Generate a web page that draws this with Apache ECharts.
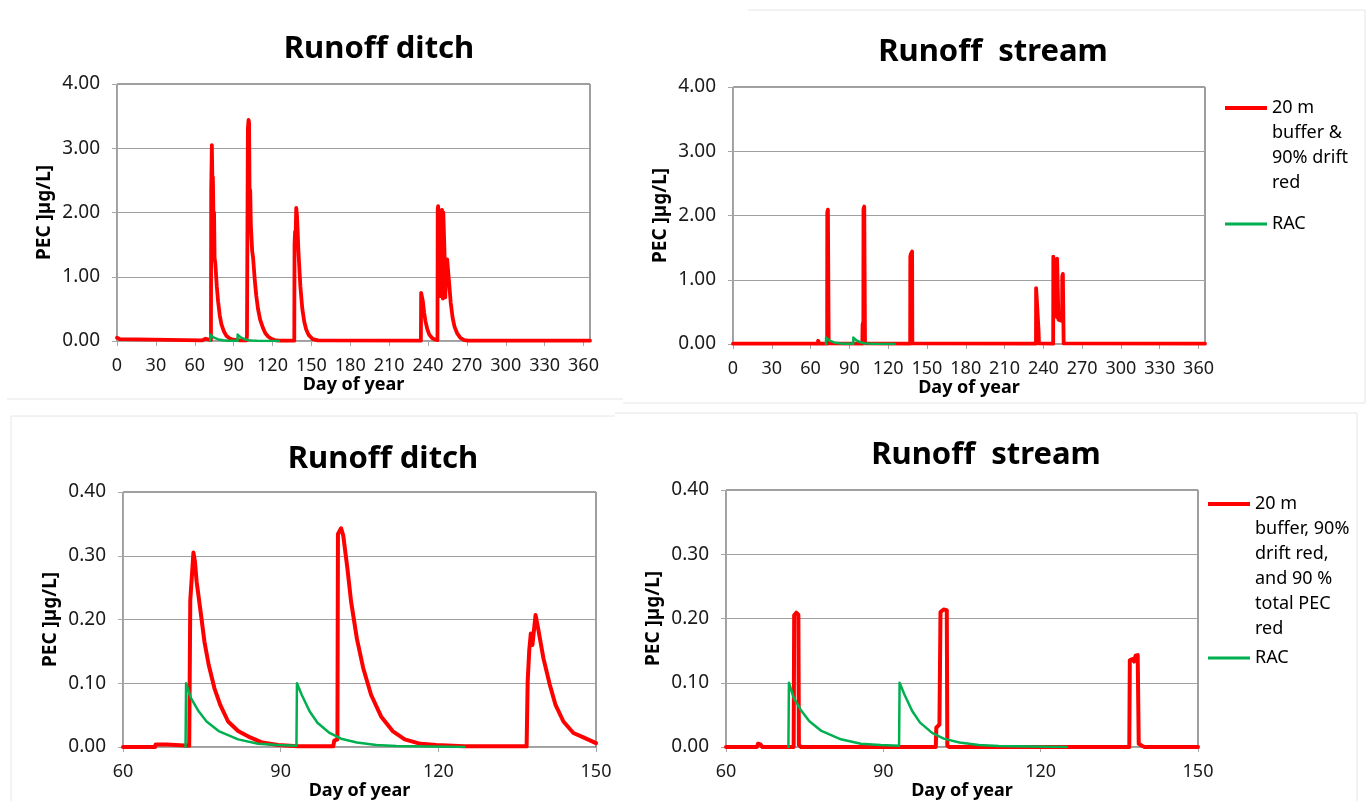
<!DOCTYPE html>
<html lang="en">
<head>
<meta charset="utf-8">
<title>Runoff PEC</title>
<script src="https://cdn.jsdelivr.net/npm/echarts@6/dist/echarts.min.js"></script>
<style>
    html, body { margin: 0; padding: 0; background: #ffffff; }
    #main { width: 1368px; height: 801px; }
</style>
</head>
<body>
<div id="main"></div>
<script>
    // ---- data: [day of year, PEC µg/L] ----
    const ditchYear = [
        [0, 0.05], [2, 0.03], [3, 0.01], [65.8, 0.01], [66, 0.04], [68.3, 0.035], [68.5, 0.015], [72.5, 0.015],
        [72.7, 2.35], [73.2, 3.05], [73.6, 2.5], [74.0, 2.55], [74.4, 1.95], [74.9, 2.0], [75.3, 1.3], [75.9, 1.2],
        [77, 0.85], [78, 0.62], [79.3, 0.4], [80.6, 0.26], [82.5, 0.15], [84.4, 0.08], [87, 0.04], [89.6, 0.02], [95, 0.01],
        [100, 0.01], [100.3, 0.1], [100.8, 0.12], [101.0, 3.3], [101.5, 3.44], [101.9, 3.4], [102.3, 2.3], [102.8, 2.35],
        [103.3, 1.8], [103.8, 1.78], [104.3, 1.4], [105, 1.3], [106.3, 0.95], [107.5, 0.7], [108.8, 0.5], [110.5, 0.33],
        [112.7, 0.2], [114.5, 0.12], [116.6, 0.07], [119, 0.035], [121.7, 0.015], [125, 0.005],
        [136.8, 0.005], [137.0, 1.5], [137.4, 1.7], [137.8, 1.6], [138.3, 2.07], [138.9, 1.95], [139.4, 1.72], [140, 1.4],
        [141.5, 0.85], [143, 0.5], [144.5, 0.3], [146, 0.18], [148, 0.09], [151, 0.03], [155, 0.01],
        [234.5, 0.005], [234.7, 0.75], [235.3, 0.77], [236, 0.62], [237, 0.44], [238, 0.31], [239.5, 0.18], [241, 0.1],
        [243, 0.05], [245, 0.025], [247.3, 0.015],
        [247.5, 2.05], [247.8, 2.1], [248.4, 1.9], [249.0, 0.9], [249.4, 0.7], [249.8, 1.5], [250.3, 2.0], [250.8, 2.04],
        [251.2, 1.6], [251.5, 0.66], [251.8, 2.0], [252.2, 2.03], [252.7, 1.4], [253.3, 0.68], [253.7, 0.66], [254.2, 1.2],
        [254.8, 1.27], [255.6, 1.25], [256.3, 0.9], [257.5, 0.6], [259, 0.36], [260.5, 0.22], [262.5, 0.12], [265, 0.05],
        [268, 0.015], [271, 0.005], [365, 0.005]
    ];

    const streamYear = [
        [0, 0.005], [65.5, 0.005], [65.8, 0.05], [66.5, 0.04], [66.8, 0.005],
        [72.8, 0.005], [72.9, 2.05], [73.4, 2.09], [73.9, 2.07], [74.0, 0.01],
        [100.0, 0.005], [100.2, 0.3], [100.8, 0.35], [100.9, 2.1], [101.5, 2.14], [102.0, 2.12], [102.1, 0.01],
        [137.0, 0.005], [137.1, 1.36], [137.5, 1.4], [137.8, 1.37], [138.0, 1.43], [138.5, 1.44], [138.7, 0.01],
        [234.3, 0.005], [234.4, 0.87], [234.9, 0.9], [235.2, 0.6], [236.0, 0.58], [236.3, 0.2], [236.6, 0.01],
        [247.6, 0.005], [247.7, 1.36], [248.1, 1.39], [248.5, 1.37], [248.6, 0.45], [250.5, 0.42], [250.6, 1.33],
        [251.1, 1.36], [251.6, 1.34], [251.7, 0.38], [254.5, 0.36], [254.6, 1.05], [255.1, 1.09], [255.6, 1.07],
        [255.7, 0.01], [365, 0.005]
    ];

    const ditchSpring = [
        [60, 0], [66.1, 0], [66.2, 0.004], [68.3, 0.004], [68.5, 0.002], [72.6, 0.002],
        [72.8, 0.23], [73.4, 0.305], [73.7, 0.29], [74.0, 0.26], [74.8, 0.21], [75.5, 0.165], [76.3, 0.129], [77.4, 0.092],
        [78.5, 0.066], [80.0, 0.04], [81.9, 0.025], [84.2, 0.015], [86.5, 0.007], [89.5, 0.003], [93.2, 0.001],
        [100.0, 0.001], [100.2, 0.01], [100.8, 0.012], [100.9, 0.334], [101.5, 0.343], [101.9, 0.332], [102.7, 0.28],
        [103.4, 0.228], [104.5, 0.17], [105.7, 0.124], [107.2, 0.082], [109.1, 0.048], [111.3, 0.025], [113.6, 0.012],
        [116.6, 0.005], [119.6, 0.003], [124.9, 0.001], [130, 0.001],
        [136.8, 0.001], [137.0, 0.103], [137.3, 0.152], [137.6, 0.178], [137.9, 0.16], [138.5, 0.207], [138.9, 0.19],
        [140.0, 0.139], [141.2, 0.098], [142.3, 0.066], [143.8, 0.04], [145.7, 0.022], [147.6, 0.015], [150, 0.006]
    ];

    const streamSpring = [
        [60, 0], [65.9, 0], [66.1, 0.005], [66.6, 0.004], [66.9, 0],
        [72.9, 0], [73.0, 0.205], [73.4, 0.209], [73.8, 0.206], [73.9, 0.003], [74.3, 0],
        [100.0, 0], [100.1, 0.03], [100.7, 0.035], [100.9, 0.21], [101.5, 0.214], [102.1, 0.213], [102.2, 0.002], [102.6, 0],
        [136.9, 0], [137.0, 0.135], [137.5, 0.137], [137.8, 0.133], [138.1, 0.142], [138.5, 0.143], [138.7, 0.005],
        [139.3, 0.002], [139.8, 0], [150, 0]
    ];

    // RAC curve, same in all four panels
    const racPec = [
        [71.9, 0], [72.0, 0.1], [72.9, 0.077], [74.4, 0.056], [75.9, 0.04], [78.2, 0.025], [81.9, 0.012], [85.7, 0.005],
        [89.5, 0.003], [93.0, 0.002], [93.1, 0.1], [94.0, 0.082], [95.5, 0.056], [97.0, 0.038], [99.3, 0.022],
        [101.5, 0.013], [104.5, 0.007], [108.2, 0.003], [112, 0.0015], [125, 0]
    ];

    const titleTexts = ['Runoff ditch', 'Runoff  stream', 'Runoff ditch', 'Runoff  stream'];
    const yearTicks = [0, 30, 60, 90, 120, 150, 180, 210, 240, 270, 300, 330, 360];
    const springTicks = [60, 90, 120, 150];
    const nameBufferDrift = '20 m\nbuffer &\n90% drift\nred';
    const nameBufferTotal = '20 m\nbuffer, 90%\ndrift red,\nand 90 %\ntotal PEC\nred';
    const nameRac = 'RAC';

    const FONT = '"Noto Sans", "DejaVu Sans", sans-serif';
    const RED = '#ff0000';
    const GREEN = '#00b050';
    const AXIS_GRAY = '#a6a6a6';
    const LEGEND_LINE_H = 25;

    // plot boxes (left, top, width, height) and title centres
    const boxes = [
        {left: 117, top: 84, width: 473, height: 257, tx: 379, ty: 47},
        {left: 733, top: 87, width: 472, height: 257, tx: 993, ty: 50},
        {left: 123, top: 492, width: 473, height: 257, tx: 383, ty: 457},
        {left: 726, top: 490, width: 472, height: 257, tx: 986, ty: 453}
    ];

    function xAxisFor(gi, min, max, ticks) {
        return {
            type: 'value', gridIndex: gi, min: min, max: max, interval: 30,
            name: 'Day of year', nameLocation: 'middle', nameGap: 35,
            nameTextStyle: {fontFamily: FONT, fontSize: 18, fontWeight: 'bold', color: '#000'},
            axisLine: {show: true, onZero: false, lineStyle: {color: AXIS_GRAY, width: 1}},
            axisTick: {show: true, length: 5, lineStyle: {color: AXIS_GRAY}, customValues: ticks},
            axisLabel: {fontFamily: FONT, fontSize: 18, color: '#1a1a1a', margin: 16, customValues: ticks},
            splitLine: {show: false}
        };
    }

    function yAxisFor(gi, max, interval) {
        return {
            type: 'value', gridIndex: gi, min: 0, max: max, interval: interval,
            name: 'PEC ]µg/L]', nameLocation: 'middle', nameGap: 63, nameRotate: 90,
            nameTextStyle: {fontFamily: FONT, fontSize: 19, fontWeight: 'bold', color: '#000'},
            axisLine: {show: true, lineStyle: {color: AXIS_GRAY, width: 1}},
            axisTick: {show: true, length: 5, lineStyle: {color: AXIS_GRAY}},
            axisLabel: {
                fontFamily: FONT, fontSize: 19, color: '#1a1a1a', margin: 17,
                formatter: function (v) { return v.toFixed(2); }
            },
            splitLine: {show: true, lineStyle: {color: '#a0a0a0', width: 1}}
        };
    }

    function lineSeries(gi, name, data, color, width, z) {
        return {
            type: 'line', name: name, xAxisIndex: gi, yAxisIndex: gi, data: data,
            showSymbol: false, symbol: 'none', z: z,
            lineStyle: {color: color, width: width, cap: 'round', join: 'round'},
            itemStyle: {color: color}
        };
    }

    // multi-line legend entry: the icon box is as tall as the text block,
    // the bar itself sits at the height of the first text line
    function legendFor(name, left, firstLineY, lines, barH) {
        const blockH = lines * LEGEND_LINE_H;
        const barTop = LEGEND_LINE_H / 2 - barH / 2;
        const icon = lines > 1
            ? 'path://M0,0h0.01v0.01h-0.01Z M0,' + barTop + 'h42v' + barH + 'h-42Z M0,' + (blockH - 0.01) + 'h0.01v0.01h-0.01Z'
            : 'rect';
        return {
            data: [name], orient: 'vertical', left: left, top: firstLineY - LEGEND_LINE_H / 2, padding: 0,
            icon: icon, itemWidth: 42, itemHeight: lines > 1 ? blockH : barH, selectedMode: false,
            textStyle: {fontFamily: FONT, fontSize: 18, color: '#000', lineHeight: LEGEND_LINE_H}
        };
    }

    const faint = {stroke: '#e6e6e6', lineWidth: 1};
    const panelLines = [
        [748, 10, 1365, 10], [1365, 10, 1365, 403], [7, 399, 623, 399], [623, 403, 1365, 403],
        [11, 416, 615, 416], [11, 416, 11, 801], [615, 413, 1357, 413], [1357, 413, 1357, 801]
    ];

    const chart = echarts.init(document.getElementById('main'), null, {renderer: 'canvas'});

    const option = {
        animation: false,
        backgroundColor: '#ffffff',
        title: boxes.map(function (b, i) {
            return {
                text: titleTexts[i], left: b.tx, top: b.ty - 13, textAlign: 'center', padding: 0,
                textStyle: {fontFamily: FONT, fontSize: 31, fontWeight: 'bold', color: '#000'}
            };
        }),
        legend: [
            legendFor(nameBufferDrift, 1225, 108, 4, 4),
            legendFor(nameRac, 1225, 224, 1, 3),
            legendFor(nameBufferTotal, 1208, 504, 6, 4),
            legendFor(nameRac, 1208, 658, 1, 3)
        ],
        grid: boxes.map(function (b) {
            return {
                left: b.left, top: b.top, width: b.width, height: b.height,
                show: true, borderColor: '#3f3f3f', borderWidth: 1, backgroundColor: 'transparent'
            };
        }),
        xAxis: [
            xAxisFor(0, 0, 365, yearTicks),
            xAxisFor(1, 0, 365, yearTicks),
            xAxisFor(2, 60, 150, springTicks),
            xAxisFor(3, 60, 150, springTicks)
        ],
        yAxis: [
            yAxisFor(0, 4, 1),
            yAxisFor(1, 4, 1),
            yAxisFor(2, 0.4, 0.1),
            yAxisFor(3, 0.4, 0.1)
        ],
        series: [
            lineSeries(0, nameBufferDrift, ditchYear, RED, 3.8, 2),
            lineSeries(0, nameRac, racPec, GREEN, 2.5, 3),
            lineSeries(1, nameBufferDrift, streamYear, RED, 3.8, 2),
            lineSeries(1, nameRac, racPec, GREEN, 2.5, 3),
            lineSeries(2, nameBufferTotal, ditchSpring, RED, 4, 2),
            lineSeries(2, nameRac, racPec, GREEN, 2.5, 3),
            lineSeries(3, nameBufferTotal, streamSpring, RED, 4, 2),
            lineSeries(3, nameRac, racPec, GREEN, 2.5, 3)
        ],
        graphic: panelLines.map(function (p) {
            return {type: 'line', silent: true, z: -1, shape: {x1: p[0], y1: p[1], x2: p[2], y2: p[3]}, style: faint};
        })
    };

    chart.setOption(option);
</script>
</body>
</html>
